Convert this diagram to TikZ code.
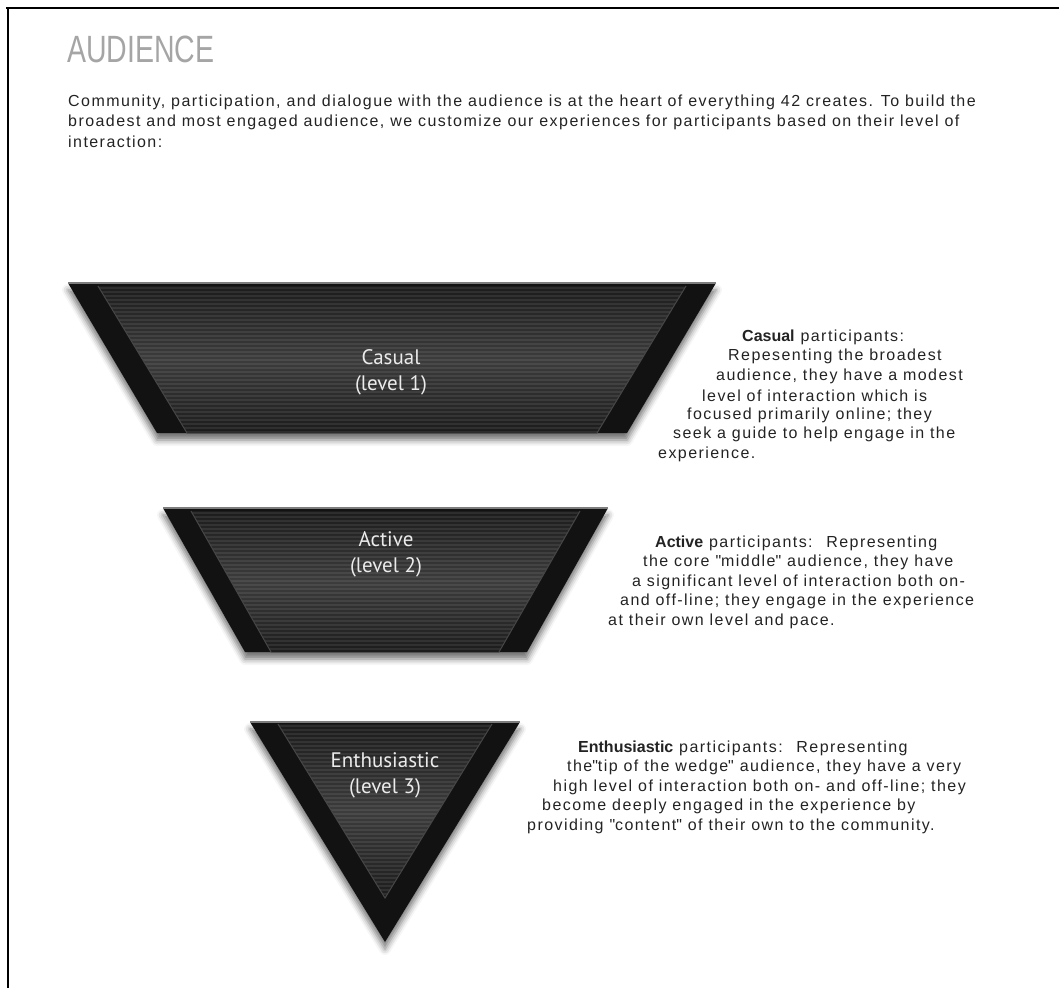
\documentclass[tikz,border=0pt]{standalone}
\usepackage{fontspec}
\setmainfont{Liberation Sans}
\newfontfamily\bodyfont[LetterSpace=9]{Liberation Sans}
\newfontfamily\tightfont{Liberation Sans}
\newfontfamily\lblfont{PT Sans}
\usetikzlibrary{shadows.blur}
\definecolor{shellc}{RGB}{18,18,18}
\definecolor{facemid}{RGB}{60,60,60}
\definecolor{faceedge}{RGB}{28,28,28}
\definecolor{rimc}{RGB}{125,125,125}
\definecolor{bodytxt}{RGB}{35,35,35}
\definecolor{ttlgray}{RGB}{165,165,165}
\newcommand\lvl[1]{{\tightfont\bfseries #1}}

\begin{document}
\begin{tikzpicture}[x=1pt,y=-1pt,
	shell/.style={fill=shellc,blur shadow={shadow xshift=0pt,shadow yshift=-7pt,shadow blur radius=6pt,shadow opacity=55}},
	face/.style={top color=faceedge,bottom color=faceedge,middle color=facemid},
	stripe/.style={white,opacity=0.08,line width=1.2pt},
	crest/.style={gray!55!black,line width=1pt},
	toprim/.style={rimc,line width=2pt},
	lbl/.style={align=center,text=white!92!black,font=\lblfont\fontsize{21}{26}\selectfont},
	txt/.style={anchor=west,inner sep=0pt,text=bodytxt,font=\bodyfont\fontsize{16}{19}\selectfont},
	frame/.style={line width=2.4pt}]
	\useasboundingbox (0,0) rectangle (1059,988);
	\draw[frame] (6,8)--(1059,8);
	\draw[frame] (8,8)--(8,988);
	% heading
	\node[anchor=base west,inner sep=0pt,text=ttlgray,font=\fontsize{38}{38}\selectfont] (ttl) at (67,62) {\scalebox{0.75}[1]{AUDIENCE}};
	\foreach \n/\y/\t in {1/102/{Community, participation, and dialogue with the audience is at the heart of everything 42 creates. To build the},
		2/122/{broadest and most engaged audience, we customize our experiences for participants based on their level of},
		3/142/{interaction:}}
		\node[txt] (intro\n) at (68,\y) {\t};
	% level 1
	\fill[shell] (68,283)--(716,283)--(627,433)--(157,433)--cycle;
	\fill[face] (98,286)--(686,286)--(597,433)--(187,433)--cycle;
	\begin{scope}
		\clip (98,286)--(686,286)--(597,433)--(187,433)--cycle;
		\foreach \yy in {288,292,...,432} \draw[stripe] (90,\yy)--(700,\yy);
	\end{scope}
	\draw[crest] (98,286)--(187,433);
	\draw[crest] (686,286)--(597,433);
	\draw[toprim] (68,283)--(716,283);
	\node[lbl] (lcas) at (391,372) {Casual\\(level 1)};
	% level 2
	\fill[shell] (163,508)--(608,508)--(527,652)--(245,652)--cycle;
	\fill[face] (191,511)--(580,511)--(499,652)--(271,652)--cycle;
	\begin{scope}
		\clip (191,511)--(580,511)--(499,652)--(271,652)--cycle;
		\foreach \yy in {513,517,...,652} \draw[stripe] (180,\yy)--(600,\yy);
	\end{scope}
	\draw[crest] (191,511)--(271,652);
	\draw[crest] (580,511)--(499,652);
	\draw[toprim] (163,508)--(608,508);
	\node[lbl] (lact) at (386,554) {Active\\(level 2)};
	% level 3
	\fill[shell] (250,722)--(520,722)--(385,942)--cycle;
	\fill[face] (278,724)--(492,724)--(385,898)--cycle;
	\begin{scope}
		\clip (278,724)--(492,724)--(385,898)--cycle;
		\foreach \yy in {726,730,...,898} \draw[stripe] (270,\yy)--(500,\yy);
	\end{scope}
	\draw[crest] (278,724)--(385,898)--(492,724);
	\draw[toprim] (250,722)--(520,722);
	\node[lbl] (lent) at (385,775) {Enthusiastic\\(level 3)};
	% side texts
	\foreach \n/\x/\y/\t in {1/742/337/{\lvl{Casual} participants:},
		2/728/356.5/{Repesenting the broadest},
		3/716/376/{audience, they have a modest},
		4/702/395.5/{level of interaction which is},
		5/687/415/{focused primarily online; they},
		6/673/434.5/{seek a guide to help engage in the},
		7/658/454/{experience.}}
		\node[txt] (cas\n) at (\x,\y) {\t};
	\foreach \n/\x/\y/\t in {1/655/543/{\lvl{Active} participants:~ Representing},
		2/643/562.5/{the core \textquotedbl middle\textquotedbl\ audience, they have},
		3/632/582/{a significant level of interaction both on-},
		4/620/601.5/{and off-line; they engage in the experience},
		5/608/621/{at their own level and pace.}}
		\node[txt] (act\n) at (\x,\y) {\t};
	\foreach \n/\x/\y/\t in {1/578/748/{\lvl{Enthusiastic} participants:~ Representing},
		2/567/767.5/{the\textquotedbl tip of the wedge\textquotedbl\ audience, they have a very},
		3/553/787/{high level of interaction both on- and off-line; they},
		4/542/806.5/{become deeply engaged in the experience by},
		5/527/826/{providing \textquotedbl content\textquotedbl\ of their own to the community.}}
		\node[txt] (ent\n) at (\x,\y) {\t};
\end{tikzpicture}
\end{document}
